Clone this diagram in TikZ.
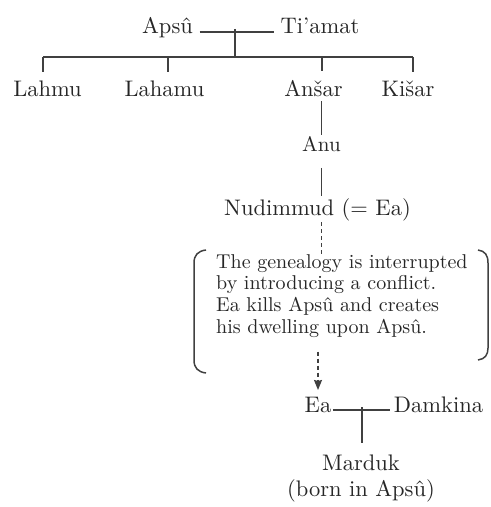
\documentclass[tikz,border=0pt]{standalone}
\usepackage{fontspec}
\setmainfont{lmroman10-regular}[Extension=.otf]
\usepackage{tikz}
\usetikzlibrary{arrows.meta}
\tikzstyle{god} = [font=\fontsize{22.5bp}{26bp}\selectfont, text=black!85, inner sep=0.15em, anchor=base]
\tikzstyle{note} = [font=\fontsize{20bp}{21.7bp}\selectfont, text=black!85, inner sep=0pt, align=left, anchor=north west]
\tikzstyle{link} = [line width=1.5bp, draw=black!75]
\tikzstyle{arrow} = [-{Stealth[length=10bp,width=8bp,inset=1bp]}, dash pattern=on 4bp off 3bp]

\begin{document}
\begin{tikzpicture}[x=1bp,y=-1bp]
    \useasboundingbox (0,0) rectangle (491,507);
    % first couple
    \node[god] (apsu) at (167.5,34) {Apsû};
    \node[god] (tiamat) at (320,34) {Ti’amat};
    \coordinate (top) at (235,29);
    \coordinate (barwest) at (43,57);
    \coordinate (bareast) at (413,57);
    \draw[link, shorten <=5bp, shorten >=5bp] (apsu.mid east) -- (tiamat.mid west);
    \draw[link] (top) -- (top |- barwest);
    \draw[link] (barwest) -- (bareast);
    % their children
    \node[god] (lahmu) at (47.5,97) {Lahmu};
    \node[god] (lahamu) at (164.5,97) {Lahamu};
    \node[god] (ansar) at (313.5,97) {Anšar};
    \node[god] (kisar) at (408,97) {Kišar};
    \foreach \x/\n in {43/lahmu,168/lahamu,322/ansar,413/kisar}
        \draw[link, shorten >=8bp] (\x,57) -- (\x,57 |- \n.north);
    \node[god, font=\fontsize{21bp}{25bp}\selectfont] (anu) at (321.5,152) {Anu};
    \draw[link, shorten <=2.5bp] (anu.north |- ansar.south) -- (anu.north);
    \node[god] (nudimmud) at (317.5,215) {Nudimmud (= Ea)};
    \draw[link, shorten <=14bp] (anu.south) -- (anu.south |- nudimmud.north);
    % the break
    \node[note] (note) at (216,254) {The genealogy is interrupted\\by introducing a conflict.\\Ea kills Apsû and creates\\his dwelling upon Apsû.};
    \draw[link, dash pattern=on 4bp off 3bp] (nudimmud.south -| anu) -- (note.north -| anu);
    \draw[link] (206,250) .. controls (198,251) and (194,255) .. (194,263) -- (194,360)
        .. controls (194,368) and (198,372) .. (206,373);
    \draw[link] (478,250) .. controls (485,251) and (488,255) .. (488,263) -- (488,348)
        .. controls (488,355) and (485,359) .. (478,360);
    % Ea and Damkina
    \node[god] (ea) at (318,412) {Ea};
    \node[god] (damkina) at (438.5,412) {Damkina};
    \draw[link, arrow, shorten <=14bp, shorten >=5bp] (note.south -| ea) -- (ea.north);
    \coordinate (jea) at (362,407);
    \draw[link, shorten >=2bp] (ea.mid east) -- (damkina.mid west);
    \node[god, align=center, anchor=north] (marduk) at (361,453) {Marduk\\(born in Apsû)};
    \draw[link, shorten >=10bp] (jea) -- (jea |- marduk.north);
\end{tikzpicture}
\end{document}
